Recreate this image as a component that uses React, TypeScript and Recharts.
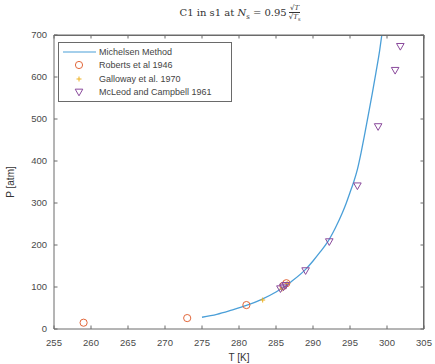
import React from "react";
import {
  ComposedChart,
  Line,
  Scatter,
  XAxis,
  YAxis,
  Label,
  ReferenceLine,
} from "recharts";

const xTicks = [255, 260, 265, 270, 275, 280, 285, 290, 295, 300, 305];
const yTicks = [0, 100, 200, 300, 400, 500, 600, 700];

const michelsenT = [275, 277, 279, 281, 283, 285, 287, 289, 290, 291, 292, 293, 294, 294.5, 295, 295.5, 296, 296.5, 297, 297.5, 298, 298.5, 299, 299.3];
const michelsenP = [28, 35, 45, 56, 70, 88, 112, 142, 162, 184, 208, 240, 278, 300, 325, 350, 380, 420, 465, 512, 560, 610, 662, 700];

const robertsT = [259, 273, 281, 286, 286.4];
const robertsP = [15, 26, 57, 103, 109];

const gallowayT = [283.2, 285.8, 286.5];
const gallowayP = [69, 95, 108];

const mcleodT = [285.6, 286, 286.3, 289, 292.2, 296, 298.8, 301.1, 301.8];
const mcleodP = [96, 100, 104, 139, 208, 341, 482, 616, 673];

const zip = (ts: number[], ps: number[]) => ts.map((t, i) => ({ t, p: ps[i] }));

const michelsen = zip(michelsenT, michelsenP);
const roberts = zip(robertsT, robertsP);
const galloway = zip(gallowayT, gallowayP);
const mcleod = zip(mcleodT, mcleodP);

const LINE = "#4a9fd8";
const RED = "#e2673a";
const YEL = "#edb120";
const PUR = "#8a4a9c";
const AXIS = "#6a6a6a";
const TXT = "#4a4a4a";
const FONT = "'Liberation Sans', Arial, sans-serif";

const CHART_W = 435;
const CHART_H = 364;
const M_TOP = 35;
const M_RIGHT = 11;
const X_AXIS_H = 35;
const Y_AXIS_W = 54;
const PLOT_H = CHART_H - M_TOP - X_AXIS_H;
const PLOT_W = CHART_W - M_RIGHT - Y_AXIS_W;
const TICK = 3.5;

const Circle = (props: any) => {
  const { cx, cy } = props;
  if (cx == null || cy == null) return null;
  return <circle cx={cx} cy={cy} r={3.6} fill="none" stroke={RED} strokeWidth={1} />;
};
const Plus = (props: any) => {
  const { cx, cy } = props;
  if (cx == null || cy == null) return null;
  return (
    <g stroke={YEL} strokeWidth={1}>
      <line x1={cx - 2.5} y1={cy} x2={cx + 2.5} y2={cy} />
      <line x1={cx} y1={cy - 2.5} x2={cx} y2={cy + 2.5} />
    </g>
  );
};
const Tri = (props: any) => {
  const { cx, cy } = props;
  if (cx == null || cy == null) return null;
  const s = 3.8;
  return (
    <polygon
      points={`${cx - s},${cy - s * 0.75} ${cx + s},${cy - s * 0.75} ${cx},${cy + s}`}
      fill="none"
      stroke={PUR}
      strokeWidth={1}
    />
  );
};

const BottomTick = (props: any) => {
  const { x, payload } = props;
  const axisY = M_TOP + PLOT_H;
  const topY = M_TOP;
  return (
    <g>
      <path d={`M${x},${axisY}V${axisY - TICK}M${x},${topY}V${topY + TICK}`} stroke={AXIS} strokeWidth={1} fill="none" />
      <text x={x} y={axisY + 17} textAnchor="middle" fontSize={9.5} fill={TXT} fontFamily={FONT}>
        {payload.value}
      </text>
    </g>
  );
};
const LeftTick = (props: any) => {
  const { y, payload } = props;
  const axisX = Y_AXIS_W;
  const rightX = Y_AXIS_W + PLOT_W;
  return (
    <g>
      <path d={`M${axisX},${y}H${axisX + TICK}M${rightX},${y}H${rightX - TICK}`} stroke={AXIS} strokeWidth={1} fill="none" />
      <text x={axisX - 7} y={y} dy={3.3} textAnchor="end" fontSize={9.5} fill={TXT} fontFamily={FONT}>
        {payload.value}
      </text>
    </g>
  );
};

const legendItems = [
  { name: "Michelsen Method", kind: "line" },
  { name: "Roberts et al 1946", kind: "circle" },
  { name: "Galloway et al. 1970", kind: "plus" },
  { name: "McLeod and Campbell 1961", kind: "tri" },
];

const LegendBox = () => (
  <div
    style={{
      position: "absolute",
      left: 58,
      top: 42,
      border: `1px solid ${AXIS}`,
      background: "#fff",
      width: 172,
      padding: "2px 0 2px 0",
      fontFamily: FONT,
      fontSize: 9,
      color: "#444",
    }}
  >
    {legendItems.map((it) => (
      <div key={it.name} style={{ display: "flex", alignItems: "center", height: 13.5 }}>
        <svg width={40} height={12} style={{ flex: "none" }}>
          {it.kind === "line" && <line x1={4} y1={6} x2={37} y2={6} stroke={LINE} strokeWidth={1.2} />}
          {it.kind === "circle" && <Circle cx={20} cy={6} />}
          {it.kind === "plus" && <Plus cx={20} cy={6} />}
          {it.kind === "tri" && <Tri cx={20} cy={6} />}
        </svg>
        <span>{it.name}</span>
      </div>
    ))}
  </div>
);

export default function App() {
  return (
    <div style={{ position: "absolute", left: 0, top: 0, width: CHART_W, height: CHART_H, background: "#fff" }}>
      <div
        style={{
          position: "absolute",
          left: 0,
          width: 480,
          top: 4,
          textAlign: "center",
          fontFamily: "'DejaVu Serif', 'Liberation Serif', serif",
          fontSize: 10,
          color: "#333",
          whiteSpace: "nowrap",
        }}
      >
        C1 in s1 at <i>N</i>
        <sub style={{ fontSize: 7 }}>s</sub> = 0.95
        <span style={{ display: "inline-block", verticalAlign: "middle", textAlign: "center", fontSize: 7, lineHeight: "8px", marginLeft: 2 }}>
          <span style={{ display: "block", borderBottom: "0.6px solid #333" }}>√<i>T</i></span>
          <span style={{ display: "block" }}>√<i>T</i><sub style={{ fontSize: 5 }}>s</sub></span>
        </span>
      </div>
      <ComposedChart
        width={CHART_W}
        height={CHART_H}
        margin={{ top: M_TOP, right: M_RIGHT, bottom: 0, left: 0 }}
      >
        <XAxis
          type="number"
          dataKey="t"
          domain={[255, 305]}
          ticks={xTicks}
          interval={0}
          allowDataOverflow
          height={X_AXIS_H}
          tickSize={0}
          tickMargin={8}
          tick={<BottomTick />}
          tickLine={false}
          stroke={AXIS}
        >
          <Label value="T [K]" position="insideBottom" offset={3} style={{ fontSize: 10, fill: "#333", fontFamily: FONT }} />
        </XAxis>
        <YAxis
          type="number"
          dataKey="p"
          domain={[0, 700]}
          ticks={yTicks}
          interval={0}
          allowDataOverflow
          width={Y_AXIS_W}
          tickSize={0}
          tickMargin={7}
          tick={<LeftTick />}
          tickLine={false}
          stroke={AXIS}
        >
          <Label
            value="P [atm]"
            angle={-90}
            position="insideLeft"
            offset={10}
            style={{ fontSize: 10, fill: "#333", fontFamily: FONT, textAnchor: "middle" }}
          />
        </YAxis>
        <ReferenceLine y={700} stroke={AXIS} strokeWidth={1} ifOverflow="visible" />
        <ReferenceLine x={305} stroke={AXIS} strokeWidth={1} ifOverflow="visible" />
        <Line
          data={michelsen}
          dataKey="p"
          type="monotone"
          stroke={LINE}
          strokeWidth={1.3}
          dot={false}
          isAnimationActive={false}
          name="Michelsen Method"
        />
        <Scatter data={roberts} dataKey="p" shape={<Circle />} isAnimationActive={false} name="Roberts et al 1946" />
        <Scatter data={galloway} dataKey="p" shape={<Plus />} isAnimationActive={false} name="Galloway et al. 1970" />
        <Scatter data={mcleod} dataKey="p" shape={<Tri />} isAnimationActive={false} name="McLeod and Campbell 1961" />
      </ComposedChart>
      <div
        style={{
          position: "absolute",
          left: Y_AXIS_W,
          top: M_TOP,
          width: PLOT_W,
          height: PLOT_H,
          boxSizing: "border-box",
          borderTop: `1px solid ${AXIS}`,
          borderRight: `1px solid ${AXIS}`,
          pointerEvents: "none",
        }}
      />
      <LegendBox />
    </div>
  );
}
